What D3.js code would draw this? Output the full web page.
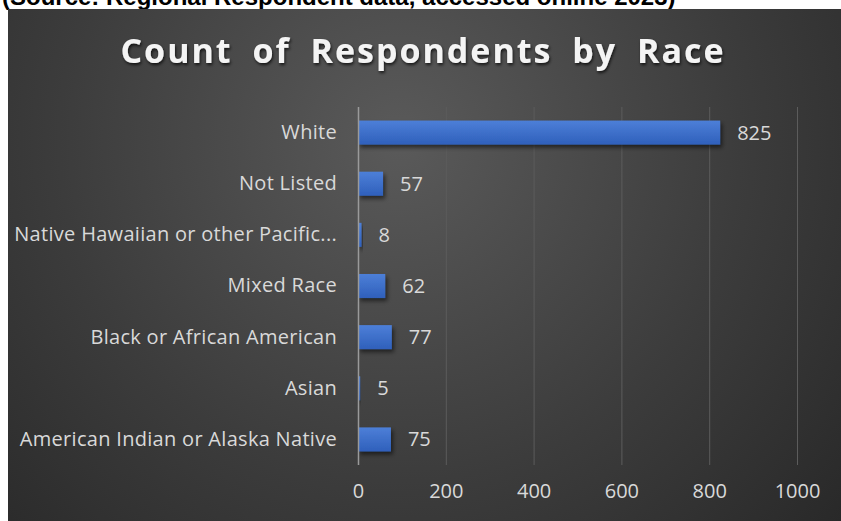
<!DOCTYPE html>
<html>
<head>
<meta charset="utf-8">
<script src="https://cdn.jsdelivr.net/npm/d3@7"></script>
<style>
  html, body { margin: 0; padding: 0; background: #ffffff; }
  svg { display: block; }
</style>
</head>
<body>
<svg id="chart" width="841" height="521"></svg>
<script>
// Respondent counts by race, listed top to bottom as shown on the chart
const categories = [
  "White",
  "Not Listed",
  "Native Hawaiian or other Pacific...",
  "Mixed Race",
  "Black or African American",
  "Asian",
  "American Indian or Alaska Native"
];
const counts = [825, 57, 8, 62, 77, 5, 75];
const xTicks = [0, 200, 400, 600, 800, 1000];

const titleText = "Count of Respondents by Race";
const captionText = "(Source: Regional Respondent data, accessed online 2023)";

const svg = d3.select("#chart");
const W = 841, H = 521;

const defs = svg.append("defs");

// panel background: lighter near the top centre, darker toward the edges
const bg = defs.append("radialGradient")
  .attr("id", "panelGrad")
  .attr("gradientUnits", "userSpaceOnUse")
  .attr("cx", 400).attr("cy", 140).attr("r", 620);
bg.append("stop").attr("offset", "0%").attr("stop-color", "#5a5a5a");
bg.append("stop").attr("offset", "55%").attr("stop-color", "#3c3c3c");
bg.append("stop").attr("offset", "100%").attr("stop-color", "#262626");

const barGrad = defs.append("linearGradient")
  .attr("id", "barGrad").attr("x1", 0).attr("y1", 0).attr("x2", 0).attr("y2", 1);
barGrad.append("stop").attr("offset", "0%").attr("stop-color", "#4d7fd8");
barGrad.append("stop").attr("offset", "100%").attr("stop-color", "#2f60bb");

const shadow = defs.append("filter").attr("id", "barShadow")
  .attr("x", "-10%").attr("y", "-30%").attr("width", "140%").attr("height", "180%");
shadow.append("feDropShadow")
  .attr("dx", 2).attr("dy", 3).attr("stdDeviation", 2)
  .attr("flood-color", "#000").attr("flood-opacity", 0.55);

const glow = defs.append("filter").attr("id", "titleShadow")
  .attr("x", "-5%").attr("y", "-30%").attr("width", "110%").attr("height", "160%");
glow.append("feDropShadow")
  .attr("dx", 1).attr("dy", 2).attr("stdDeviation", 1.5)
  .attr("flood-color", "#000").attr("flood-opacity", 0.7);

// caption line above the panel (its upper part runs past the page top)
svg.append("text")
  .attr("x", 2).attr("y", 5)
  .attr("font-family", "Liberation Sans, Arial, sans-serif")
  .attr("font-weight", 700)
  .attr("font-size", 24)
  .attr("fill", "#000")
  .text(captionText);

// chart panel
svg.append("rect")
  .attr("x", 8).attr("y", 9)
  .attr("width", W - 8).attr("height", H - 9)
  .attr("fill", "url(#panelGrad)");

// title
svg.append("text")
  .attr("x", 423).attr("y", 63)
  .attr("text-anchor", "middle")
  .attr("font-family", "Open Sans, sans-serif")
  .attr("font-weight", 700)
  .attr("font-size", 34)
  .attr("letter-spacing", 2)
  .attr("word-spacing", 9)
  .attr("fill", "#f4f4f4")
  .attr("filter", "url(#titleShadow)")
  .text(titleText);

// scales
const x = d3.scaleLinear().domain([0, 1000]).range([358, 797]);
const y = d3.scaleBand().domain(categories).range([107, 465])
  .paddingInner(0.53).paddingOuter(0.265);

const labelFont = "Open Sans, sans-serif";
const labelColor = "#d9d9d9";
const labelSize = 20;

// vertical gridlines
svg.append("g")
  .selectAll("line")
  .data(xTicks.filter(t => t > 0))
  .join("line")
  .attr("x1", d => x(d) + 0.5).attr("x2", d => x(d) + 0.5)
  .attr("y1", 107).attr("y2", 465)
  .attr("stroke", "#5c5c5c").attr("stroke-width", 1);

// x axis tick labels
const xAxis = d3.axisBottom(x).tickValues(xTicks).tickFormat(d3.format("d"))
  .tickSize(0).tickPadding(0);
const gx = svg.append("g").attr("transform", "translate(0,484)").call(xAxis);
gx.select(".domain").remove();
gx.selectAll("text")
  .attr("font-family", labelFont)
  .attr("font-size", labelSize)
  .attr("fill", labelColor);

// bars
svg.append("g")
  .selectAll("rect")
  .data(categories)
  .join("rect")
  .attr("x", x(0))
  .attr("y", d => y(d))
  .attr("width", (d, i) => Math.max(1, x(counts[i]) - x(0)))
  .attr("height", y.bandwidth())
  .attr("fill", "url(#barGrad)")
  .attr("filter", "url(#barShadow)");

// category axis line and labels
const yAxis = d3.axisLeft(y).tickSize(0).tickPadding(21);
const gy = svg.append("g").attr("transform", `translate(${x(0)},0)`).call(yAxis);
gy.select(".domain").remove();
gy.selectAll("text")
  .attr("font-family", labelFont)
  .attr("font-size", labelSize)
  .attr("letter-spacing", 0.3)
  .attr("fill", labelColor);

svg.append("line")
  .attr("x1", x(0) + 0.5).attr("x2", x(0) + 0.5)
  .attr("y1", 107).attr("y2", 465)
  .attr("stroke", "#9a9a9a").attr("stroke-width", 1.5);

// value labels
svg.append("g")
  .selectAll("text")
  .data(categories)
  .join("text")
  .attr("x", (d, i) => x(counts[i]) + 17)
  .attr("y", d => y(d) + y.bandwidth() / 2)
  .attr("dy", "0.35em")
  .attr("font-family", labelFont)
  .attr("font-size", labelSize)
  .attr("fill", labelColor)
  .text((d, i) => counts[i]);
</script>
</body>
</html>
